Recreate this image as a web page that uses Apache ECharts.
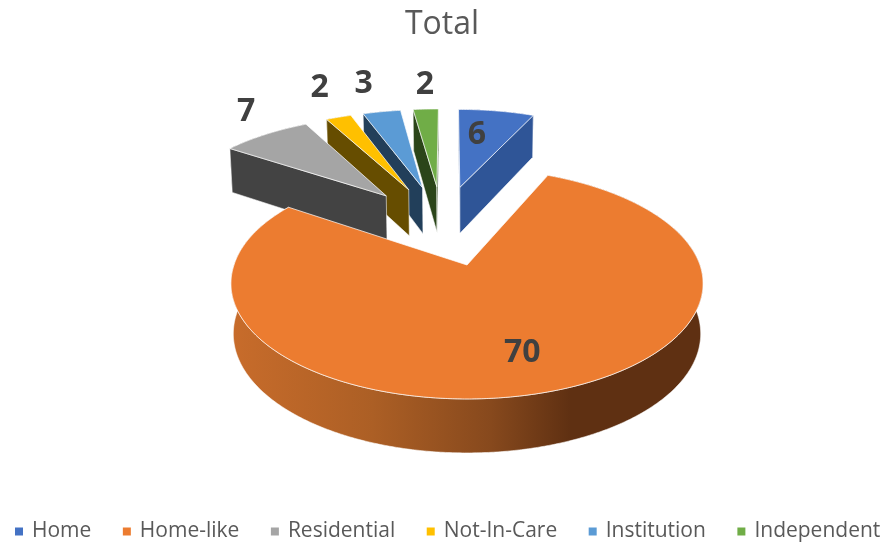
<!DOCTYPE html>
<html>
<head>
<meta charset="utf-8">
<title>Total</title>
<script src="https://cdn.jsdelivr.net/npm/echarts@6/dist/echarts.min.js"></script>
<style>
  html, body { margin: 0; padding: 0; background: #fff; }
  #main { width: 884px; height: 542px; }
</style>
</head>
<body>
<div id="main"></div>
<script>
// data
var categories = ['Home', 'Home-like', 'Residential', 'Not-In-Care', 'Institution', 'Independent'];
var values = [6, 70, 7, 2, 3, 2];
var topColors = ['#4472C4', '#EC7C30', '#A5A5A5', '#FFC000', '#5B9BD5', '#70AD47'];
var wallColors = ['#2F5597', '#5F3012', '#434343', '#664D00', '#223F5A', '#2B4519'];
// back to front, each slice hides the cut face of the one before it
var paintOrder = [0, 5, 4, 3, 2, 1];

// tilted disc, fitted to the picture
var originX = 467, originY = 265;   // where the big slice's tip lands
var scaleU = 233, scaleV = 112.5;
var persp = 0.16;
var skewX = 2;
var explode = 0.4;
var depthBase = 49.5, depthTilt = 4.5;
var bottomShrink = 0.99;            // lower face is further from the eye
// label place from each slice tip: disc radius, angle in degrees
var labelRadius = [0.674, 0.71, 1.37, 1.496, 1.475, 1.40];
var labelAngle = [6.8, 162.7, 322.3, 337.4, 344.6, 355.7];

var total = values.reduce(function (a, b) { return a + b; }, 0);
var slices = [];
var sum = 0;
values.forEach(function (v) {
  var a0 = sum / total * 360;
  sum += v;
  var a1 = sum / total * 360;
  slices.push({ a0: a0, a1: a1, mid: (a0 + a1) / 2 });
});

function rad(d) { return d * Math.PI / 180; }

// the big slice tip sits on origin, so the pie centre is pulled back by its explode
var bigMid = rad(slices[1].mid);
var pieU = -explode * Math.sin(bigMid);
var pieV = explode * Math.cos(bigMid);

function tipOf(i) {
  var m = rad(slices[i].mid);
  return { u: pieU + explode * Math.sin(m), v: pieV - explode * Math.cos(m) };
}

// disc coords to screen, z is 0 on the top face and 1 on the bottom
function project(u, v, z) {
  var d = 1 - persp * v;
  var x = u * scaleU / d + skewX * Math.min(v, 0);
  if (z) {
    return [originX + x * bottomShrink, originY + v * scaleV / d + depthBase + depthTilt * v];
  }
  return [originX + x, originY + v * scaleV / d];
}

function onRim(tip, deg, z) {
  var a = rad(deg);
  return project(tip.u + Math.sin(a), tip.v - Math.cos(a), z);
}

function arcPoints(tip, a0, a1, z) {
  var pts = [];
  var n = Math.ceil(a1 - a0) * 2;
  for (var k = 0; k <= n; k++) {
    pts.push(onRim(tip, a0 + (a1 - a0) * k / n, z));
  }
  return pts;
}

function facing(p) {
  var s = 0;
  for (var k = 0; k < p.length; k++) {
    var q = p[(k + 1) % p.length];
    s += p[k][0] * q[1] - q[0] * p[k][1];
  }
  return s;
}

var edge = 'rgba(255,255,255,0.7)';

function wallEl(pts, fill) {
  return {
    type: 'polygon',
    shape: { points: pts },
    style: { fill: fill, stroke: edge, lineWidth: 0.8 }
  };
}

function sliceRenderer(i) {
  return function () {
    var s = slices[i];
    var tip = tipOf(i);
    var kids = [];

    var rimFill = wallColors[i];
    if (i === 1) {
      rimFill = new echarts.graphic.LinearGradient(0, 0, 1, 0, [
        { offset: 0, color: '#C86C2B' },
        { offset: 0.3, color: '#AC5F25' },
        { offset: 0.55, color: '#87491D' },
        { offset: 0.72, color: '#5F3012' },
        { offset: 1, color: '#5F3012' }
      ]);
    }
    var rim = arcPoints(tip, s.a0, s.a1, 0).concat(arcPoints(tip, s.a0, s.a1, 1).reverse());
    kids.push(wallEl(rim, rimFill));

    // flat cut faces, only the ones turned to the viewer
    var t0 = project(tip.u, tip.v, 0);
    var t1 = project(tip.u, tip.v, 1);
    var w0 = [t0, onRim(tip, s.a0, 0), onRim(tip, s.a0, 1), t1];
    var w1 = [t0, t1, onRim(tip, s.a1, 1), onRim(tip, s.a1, 0)];
    if (facing(w0) < 0) kids.push(wallEl(w0, wallColors[i]));
    if (facing(w1) < 0) kids.push(wallEl(w1, wallColors[i]));

    kids.push({
      type: 'polygon',
      shape: { points: [t0].concat(arcPoints(tip, s.a0, s.a1, 0)) },
      style: { fill: topColors[i], stroke: edge, lineWidth: 1 }
    });

    var la = rad(labelAngle[i]);
    var lv = tip.v - labelRadius[i] * Math.cos(la);
    var lp = project(tip.u + labelRadius[i] * Math.sin(la), lv, 0);
    kids.push({
      type: 'text',
      style: {
        x: lp[0] - skewX * Math.min(lv, 0),
        y: lp[1] + 2,
        text: String(values[i]),
        align: 'center',
        verticalAlign: 'middle',
        fill: '#404040',
        font: 'bold 32px "Open Sans"'
      }
    });
    return { type: 'group', children: kids };
  };
}

var seriesList = categories.map(function (name, i) {
  return {
    name: name,
    type: 'custom',
    coordinateSystem: 'none',
    silent: true,
    animation: false,
    z: 2 + paintOrder.indexOf(i),
    itemStyle: { color: topColors[i] },
    data: [values[i]],
    renderItem: sliceRenderer(i)
  };
});

var myChart = echarts.init(document.getElementById('main'));
var option = {
  backgroundColor: '#fff',
  animation: false,
  title: {
    text: 'Total',
    left: 'center',
    top: 4,
    textStyle: { fontFamily: 'Open Sans', fontSize: 32, fontWeight: 'normal', color: '#595959' }
  },
  legend: {
    data: categories,
    left: 15,
    top: 521,
    padding: 0,
    icon: 'rect',
    itemWidth: 8,
    itemHeight: 8,
    itemGap: 31.5,
    textStyle: { fontFamily: 'Open Sans', fontSize: 21, color: '#595959', padding: [0, 0, 0, 4] }
  },
  series: seriesList
};
myChart.setOption(option);
</script>
</body>
</html>
